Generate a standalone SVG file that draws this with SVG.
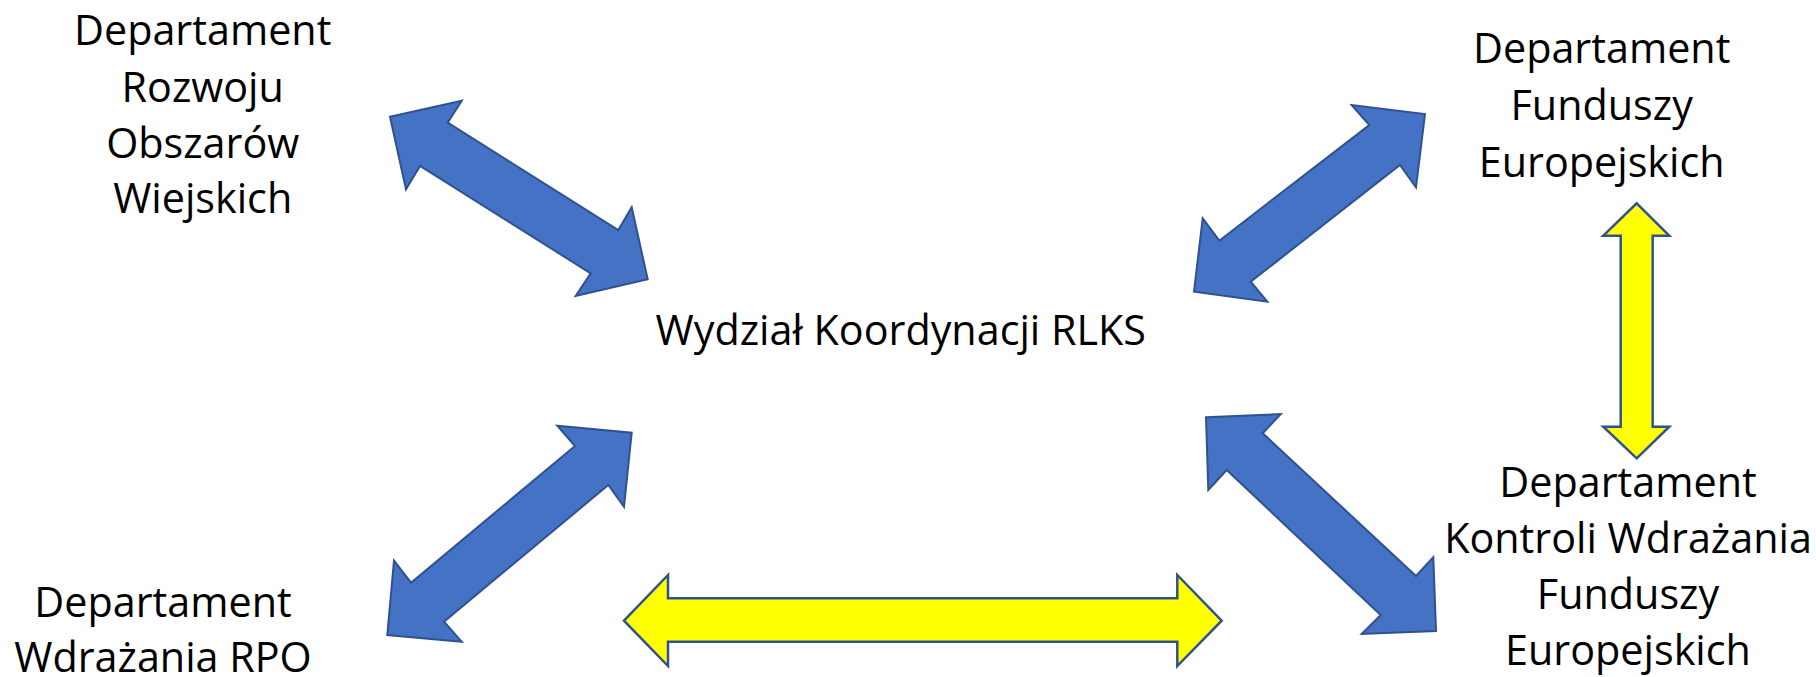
<svg xmlns="http://www.w3.org/2000/svg" width="1816" height="677" viewBox="0 0 1816 677">
<style>
.lbl{font-family:"Open Sans","Noto Sans","Liberation Sans",sans-serif;font-size:41.3px;fill:#000;text-anchor:middle}
.blue{fill:#4472C4;stroke:#2F528F;stroke-width:2;stroke-linejoin:miter}
.yel{fill:#FFFF00;stroke:#2F528F;stroke-width:2.5;stroke-linejoin:miter}
</style>
<rect width="1816" height="677" fill="#fff"/>
<g id="connectors">
<polygon class="blue" points="390,116.7 461.7,100.7 447.7,122.7 618.3,230 631.7,207.3 647.7,279.3 575.7,296 590.7,273.3 420,166 406,189.3"/>
<polygon class="blue" points="1425,114 1416,187.3 1400,165 1250.7,281.7 1267.3,301.7 1194,291.7 1202.7,218.3 1219.3,240.7 1369.3,125 1351.7,105"/>
<polygon class="blue" points="631.7,432.7 624,506.7 608.3,485 444,621.7 461.7,641.7 387.3,635 394,560.7 411,582.7 575,446 557.3,425.7"/>
<polygon class="blue" points="1206,417.3 1280.7,414 1262.7,433.3 1416,576 1433.3,557.3 1436,631 1361.7,634 1380.7,615 1226.7,470 1208.3,490"/>
<polygon class="yel" points="624,620.7 668,575 668,598.3 1177.3,598.3 1177.3,575 1221.7,620.7 1177.3,666 1177.3,641.7 668,641.7 668,666"/>
<polygon class="yel" points="1636.7,203.3 1669.3,235.7 1652.7,235.7 1652.7,426.7 1669.3,426.7 1636.7,458.3 1603.3,426.7 1620.7,426.7 1620.7,235.7 1603.3,235.7"/>
</g>
<g id="node-rozwoju">
<text class="lbl" x="202.7" y="45">Departament</text>
<text class="lbl" x="202.7" y="101.7">Rozwoju</text>
<text class="lbl" x="202.7" y="158.3">Obszarów</text>
<text class="lbl" x="202.7" y="213.3">Wiejskich</text>
</g>
<g id="node-fundusze">
<text class="lbl" x="1601.7" y="63.3">Departament</text>
<text class="lbl" x="1601.7" y="120">Funduszy</text>
<text class="lbl" x="1601.7" y="176.7">Europejskich</text>
</g>
<g id="node-wydzial">
<text class="lbl" x="900.8" y="345">Wydział Koordynacji RLKS</text>
</g>
<g id="node-rpo">
<text class="lbl" x="163" y="616.7">Departament</text>
<text class="lbl" x="163" y="671.7">Wdrażania RPO</text>
</g>
<g id="node-kontrola">
<text class="lbl" x="1628" y="496.7">Departament</text>
<text class="lbl" x="1628" y="552.7">Kontroli Wdrażania</text>
<text class="lbl" x="1628" y="609.3">Funduszy</text>
<text class="lbl" x="1628" y="665">Europejskich</text>
</g>
</svg>
